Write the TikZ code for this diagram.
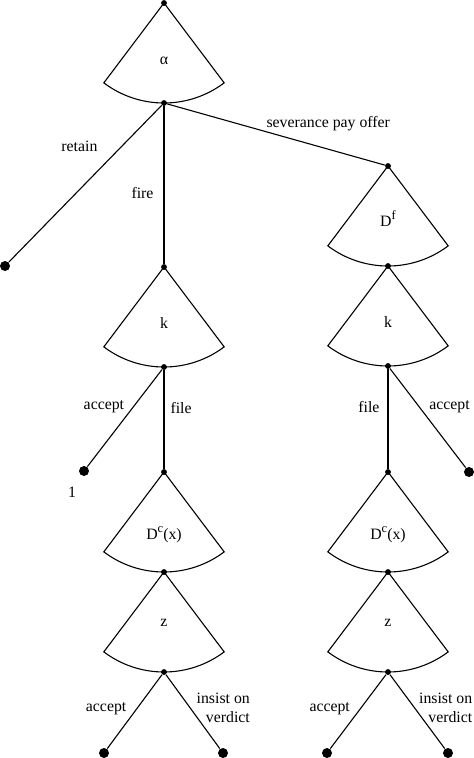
\documentclass[tikz,border=0pt]{standalone}
\usepackage{fontspec}
\setmainfont{Liberation Serif}
\newcommand{\upidx}[1]{\raisebox{0.4em}{\fontsize{12.5}{12.5}\selectfont #1}}
\begin{document}
\begin{tikzpicture}[x=1pt,y=1pt,line width=1.1pt,
   font=\fontsize{15.8}{19}\selectfont,
   dot/.style={circle,fill,inner sep=0,minimum size=5.5pt},
   leaf/.style={circle,fill,inner sep=0,minimum size=10pt},
   lbl/.style={inner sep=0}]
   \useasboundingbox (0,0) rectangle (474,-758);
   % Decision nodes
   \node[dot] (a0)  at (164,-3)   {};
   \node[dot] (a1)  at (164,-103) {};
   \node[dot] (kl0) at (164,-267) {};
   \node[dot] (kl1) at (164,-367) {};
   \node[dot] (dl0) at (164,-472) {};
   \node[dot] (dl1) at (164,-572) {};
   \node[dot] (zl1) at (164,-672) {};
   \node[dot] (df0) at (388,-166) {};
   \node[dot] (df1) at (388,-266) {};
   \node[dot] (kr1) at (388,-366) {};
   \node[dot] (dr0) at (388,-472) {};
   \node[dot] (dr1) at (388,-572) {};
   \node[dot] (zr1) at (388,-672) {};
   % Fans
   \foreach \n in {a0,kl0,dl0,dl1,df0,df1,dr0,dr1}
      \draw (\n.center) -- ++(233:100pt) arc[start angle=233,end angle=307,radius=100pt] -- cycle;
   \foreach \n in {a0,a1,kl0,kl1,dl0,dl1,zl1,df0,df1,kr1,dr0,dr1,zr1}
      \fill (\n) circle (2.75pt);
   % Fan labels
   \node[lbl,anchor=base] (alab)  at ([yshift=-61pt]a0.center)  {α};
   \node[lbl,anchor=base] (kllab) at ([yshift=-61pt]kl0.center) {k};
   \node[lbl,anchor=base] (dllab) at ([yshift=-67pt]dl0.center) {D\upidx{c}(x)};
   \node[lbl,anchor=base] (zllab) at ([yshift=-54pt]dl1.center) {z};
   \node[lbl,anchor=base] (dflab) at ([yshift=-60pt]df0.center) {D\upidx{f}};
   \node[lbl,anchor=base] (krlab) at ([yshift=-61pt]df1.center) {k};
   \node[lbl,anchor=base] (drlab) at ([yshift=-67pt]dr0.center) {D\upidx{c}(x)};
   \node[lbl,anchor=base] (zrlab) at ([yshift=-54pt]dr1.center) {z};
   % Leaves
   \node[leaf] (ret)  at (5,-266)   {};
   \node[leaf] (acc1) at (84,-471)  {};
   \node[leaf] (acc2) at (469,-472) {};
   \node[leaf] (bl1)  at (104,-753) {};
   \node[leaf] (bl2)  at (223,-753) {};
   \node[leaf] (br1)  at (327,-753) {};
   \node[leaf] (br2)  at (448,-753) {};
   \node[lbl] (one) at ([xshift=-12pt,yshift=-21pt]acc1.center) {1};
   % Moves
   \draw (a1) -- node[lbl,pos=0.26,left=24pt] {retain} (ret);
   \draw (a1) -- node[lbl,pos=0.55,left=10pt] {fire} (kl0);
   \draw (a1) -- node[lbl,pos=0.74,above=18pt] {severance pay offer} (df0);
   \draw (kl1) -- node[lbl,pos=0.38,left=9pt] {accept} (acc1);
   \draw (kl1) -- node[lbl,pos=0.38,right=6pt] {file} (dl0);
   \draw (kr1) -- node[lbl,pos=0.38,left=8pt] {file} (dr0);
   \draw (kr1) -- node[lbl,pos=0.38,right=10pt] {accept} (acc2);
   \draw (zl1) -- node[lbl,pos=0.46,left=10pt] {accept} (bl1);
   \draw (zl1) -- node[lbl,pos=0.45,right=6pt,align=right] {insist on\\verdict} (bl2);
   \draw (zr1) -- node[lbl,pos=0.46,left=10pt] {accept} (br1);
   \draw (zr1) -- node[lbl,pos=0.45,right=4pt,align=right] {insist on\\verdict} (br2);
\end{tikzpicture}
\end{document}
